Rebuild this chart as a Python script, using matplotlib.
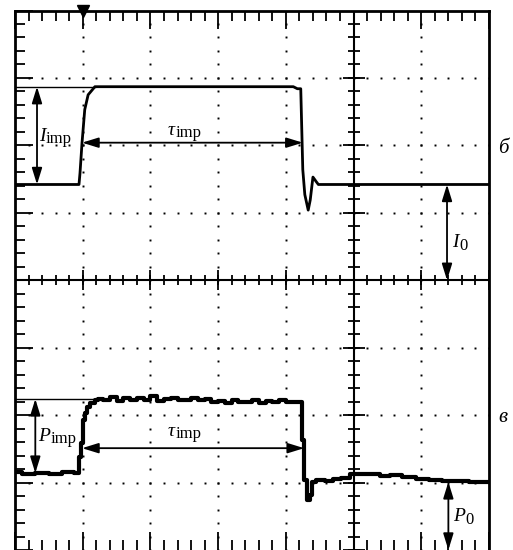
import matplotlib.pyplot as plt
import numpy as np

# screen in divisions: 7 wide, 8 high (crosshair at x=5, y=4)
# top trace (current pulse, "б")
cur_x = [0, 0.945, 0.96, 0.99, 1.03, 1.08, 1.18, 4.11, 4.17, 4.22, 4.25, 4.28, 4.33, 4.36, 4.40, 4.45, 4.48, 7.0]
cur_y = [5.42, 5.42, 5.59, 6.04, 6.53, 6.75, 6.87, 6.87, 6.84, 6.84, 5.64, 5.27, 5.04, 5.19, 5.53, 5.46, 5.42, 5.42]

# bottom trace (power pulse, "в")
pw_x = [0, 0.2, 0.4, 0.6, 0.8, 0.945, 0.96, 0.99, 1.02, 1.05, 1.08, 1.14, 1.21,
        1.25, 1.35, 1.45, 1.55, 1.65, 1.75, 1.85, 1.95, 2.05, 2.15, 2.25, 2.35, 2.45,
        2.55, 2.65, 2.75, 2.85, 2.95, 3.05, 3.15, 3.25, 3.35, 3.45, 3.55, 3.65, 3.75,
        3.85, 3.95, 4.05, 4.15, 4.22, 4.25, 4.28, 4.34, 4.37, 4.40, 4.50, 4.65, 4.75,
        4.87, 5.02, 5.15, 5.32, 5.45, 5.64, 5.80, 6.03, 6.20, 6.40, 6.60, 6.80, 7.0]
pw_y = [1.15, 1.12, 1.14, 1.13, 1.15, 1.14, 1.38, 1.59, 1.93, 2.03, 2.12, 2.18, 2.23,
        2.24, 2.22, 2.27, 2.21, 2.25, 2.23, 2.26, 2.22, 2.28, 2.21, 2.24, 2.26, 2.22,
        2.23, 2.25, 2.22, 2.24, 2.19, 2.21, 2.18, 2.22, 2.19, 2.20, 2.23, 2.18, 2.21,
        2.19, 2.22, 2.20, 2.19, 2.20, 1.63, 1.04, 0.74, 0.82, 1.01, 1.04, 1.02, 1.05,
        1.07, 1.13, 1.12, 1.13, 1.10, 1.11, 1.08, 1.05, 1.04, 1.02, 1.03, 1.01, 1.01]

plt.rcParams['font.family'] = 'Liberation Serif'

fig = plt.figure(figsize=(5.13, 5.5), dpi=100)
ax = fig.add_axes([15/513, 0, 474/513, 539.5/550])
ax.set_xlim(0, 7)
ax.set_ylim(0, 8)

# borders and ticks
for s in ['top', 'left', 'right']:
    ax.spines[s].set_linewidth(2)
ax.spines['bottom'].set_visible(False)
ax.set_xticks(np.arange(0, 8, 1))
ax.set_xticks(np.arange(0, 7.01, 0.2), minor=True)
ax.set_yticks(np.arange(0, 9, 1))
ax.set_yticks(np.arange(0, 8.01, 0.2), minor=True)
ax.tick_params(which='both', direction='in', top=True, bottom=True, left=True, right=False,
               labelbottom=False, labelleft=False, width=1.3)
ax.tick_params(which='major', length=13)
ax.tick_params(which='minor', length=7)

# dotted grid
mx = np.arange(0, 7.01, 0.2)
my = np.arange(0, 8.01, 0.2)
for gx in [1, 2, 3, 4, 6]:
    ax.plot(np.full(len(my), gx), my, 's', ms=1.4, mew=0, color='black')
for gy in [1, 2, 3, 5, 6, 7]:
    ax.plot(mx, np.full(len(mx), gy), 's', ms=1.4, mew=0, color='black')

# crosshair
ax.axvline(5, color='black', lw=1.5)
ax.axhline(4, color='black', lw=1.5)
ax.plot(np.full(len(my), 5), my, '_', ms=8, mew=1.3, color='black')
ax.plot(np.full(9, 5), np.arange(0, 9), '_', ms=16, mew=1.3, color='black')
ax.plot(mx, np.full(len(mx), 4), '|', ms=7, mew=1.3, color='black')
ax.plot(np.arange(0, 8), np.full(8, 4), '|', ms=14, mew=1.3, color='black')

# trigger marker
ax.plot([1], [8], 'v', ms=9, color='black', clip_on=False)

# traces
ax.plot(cur_x, cur_y, color='black', lw=2)
ax.plot(pw_x, pw_y, color='black', lw=3, drawstyle='steps-mid')

# reference lines
ax.plot([0, 1.18], [6.87, 6.87], color='black', lw=1)
ax.plot([0, 1.21], [2.24, 2.24], color='black', lw=1)

ap = dict(arrowstyle='<|-|>,head_length=0.55,head_width=0.17', color='black', lw=1.3,
          shrinkA=0, shrinkB=0, mutation_scale=18)
ax.annotate('', xy=(0.325, 5.42), xytext=(0.325, 6.87), arrowprops=ap)
ax.annotate('', xy=(0.99, 6.04), xytext=(4.25, 6.04), arrowprops=ap)
ax.annotate('', xy=(6.38, 4.0), xytext=(6.38, 5.42), arrowprops=ap)
ax.annotate('', xy=(0.30, 1.14), xytext=(0.30, 2.24), arrowprops=ap)
ax.annotate('', xy=(0.99, 1.51), xytext=(4.27, 1.51), arrowprops=ap)
ax.annotate('', xy=(6.40, 0.0), xytext=(6.40, 1.01), arrowprops=ap, annotation_clip=False)

# labels: italic symbol + upright subscript placed just after it
def label(x, y, sym, sub, dy):
    t = ax.text(x, y, sym, fontsize=14, style='italic', va='baseline', ha='left')
    ax.annotate(sub, xy=(1, y - dy), xycoords=(t, 'data'), xytext=(0.3, 0),
                textcoords='offset points', fontsize=12, va='baseline', ha='left')

label(0.355, 6.07, 'I', 'imp', 0.03)
label(2.26, 6.16, 'τ', 'imp', 0.03)
label(6.46, 4.50, 'I', '0', 0.05)
label(0.34, 1.62, 'P', 'imp', 0.03)
label(2.26, 1.69, 'τ', 'imp', 0.03)
label(6.47, 0.43, 'P', '0', 0.05)
ax.text(7.21, 5.96, 'б', fontsize=15, style='italic', va='center', ha='center')
ax.text(7.20, 1.97, 'в', fontsize=15, style='italic', va='center', ha='center')

plt.savefig('out.png', dpi=100)
